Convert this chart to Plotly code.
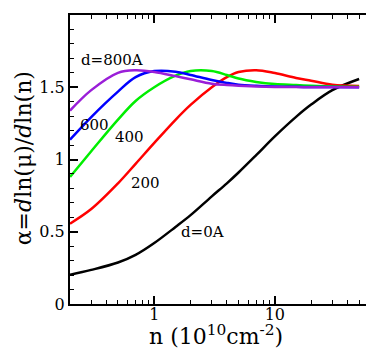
import plotly.graph_objects as go

# density n (10^10 cm^-2) sample points
n_vals = [0.2, 0.3, 0.5, 0.7, 1, 1.5, 2, 3, 4, 5, 7, 10, 15, 20, 30, 50]

alpha_0 = [0.203, 0.236, 0.287, 0.34, 0.422, 0.533, 0.615, 0.745, 0.835, 0.91, 1.03, 1.16, 1.295, 1.38, 1.48, 1.557]
alpha_200 = [0.556, 0.657, 0.835, 0.97, 1.115, 1.275, 1.378, 1.50, 1.57, 1.605, 1.618, 1.598, 1.564, 1.545, 1.518, 1.509]
alpha_400 = [0.88, 1.057, 1.276, 1.405, 1.50, 1.58, 1.612, 1.612, 1.585, 1.56, 1.537, 1.522, 1.515, 1.51, 1.505, 1.504]
alpha_600 = [1.137, 1.294, 1.47, 1.57, 1.612, 1.608, 1.585, 1.55, 1.53, 1.518, 1.51, 1.505, 1.503, 1.502, 1.501, 1.5]
alpha_800 = [1.338, 1.48, 1.6, 1.617, 1.606, 1.577, 1.555, 1.525, 1.515, 1.51, 1.505, 1.502, 1.501, 1.5, 1.5, 1.5]

series = [
    ('d=0A', alpha_0, 'black'),
    ('200', alpha_200, '#ff0000'),
    ('400', alpha_400, '#00ee00'),
    ('600', alpha_600, '#0000ff'),
    ('d=800A', alpha_800, '#9a1ed8'),
]

# label text and where it sits (log10 n, alpha)
labels = ['d=800A', '600', '400', '200', 'd=0A']
label_x = [-0.353, -0.493, -0.204, -0.072, 0.399]
label_y = [1.689, 1.239, 1.156, 0.837, 0.498]

FONT = 'DejaVu Serif'

fig = go.Figure()
for name, alpha, color in series:
    fig.add_trace(
        go.Scatter(
            x=n_vals,
            y=alpha,
            mode='lines',
            name=name,
            line=dict(color=color, width=2.5, shape='spline', smoothing=1.0),
        )
    )

for text, lx, ly in zip(labels, label_x, label_y):
    fig.add_annotation(
        x=lx, y=ly, xref='x', yref='y', text=text, showarrow=False,
        font=dict(family=FONT, size=15, color='black'),
        xanchor='center', yanchor='middle',
    )

# axis titles as annotations so they can be placed exactly
fig.add_annotation(
    x=0.478, y=-0.108, xref='paper', yref='paper',
    text='n (10<sup>10</sup>cm<sup>-2</sup>)', showarrow=False,
    font=dict(family=FONT, size=22, color='black'),
    xanchor='center', yanchor='middle',
)
fig.add_annotation(
    x=-0.153, y=0.505, xref='paper', yref='paper',
    text='α=<i>d</i>ln(μ)/<i>d</i>ln(n)', showarrow=False, textangle=-90,
    font=dict(family=FONT, size=22, color='black'),
    xanchor='center', yanchor='middle',
)

fig.update_layout(
    width=374,
    height=348,
    margin=dict(l=62, r=4, t=7, b=52),
    plot_bgcolor='white',
    paper_bgcolor='white',
    showlegend=False,
    font=dict(family=FONT, color='black'),
)

fig.update_xaxes(
    type='log',
    range=[-0.699, 1.839],
    tickvals=[1, 10],
    ticktext=['1', '10'],
    ticks='inside',
    ticklen=8,
    tickwidth=1.5,
    tickcolor='black',
    ticklabelstandoff=-5,
    showline=True,
    linewidth=2,
    linecolor='black',
    mirror='ticks',
    showgrid=False,
    zeroline=False,
    tickfont=dict(family=FONT, size=16),
    minor=dict(
        tickvals=[0.3, 0.4, 0.5, 0.6, 0.7, 0.8, 0.9, 2, 3, 4, 5, 6, 7, 8, 9, 20, 30, 40, 50, 60],
        ticks='inside', ticklen=4, tickwidth=1, tickcolor='black', showgrid=False,
    ),
)

fig.update_yaxes(
    range=[0, 2],
    tickvals=[0, 0.5, 1, 1.5, 2],
    ticktext=['0', '0.5', '1', '1.5', '2'],
    ticks='inside',
    ticklen=8,
    tickwidth=1.5,
    tickcolor='black',
    showline=True,
    linewidth=2,
    linecolor='black',
    mirror='ticks',
    showgrid=False,
    zeroline=False,
    tickfont=dict(family=FONT, size=16),
    minor=dict(dtick=0.1, ticks='inside', ticklen=4, tickwidth=1, tickcolor='black', showgrid=False),
)

fig.write_html('out.html')
